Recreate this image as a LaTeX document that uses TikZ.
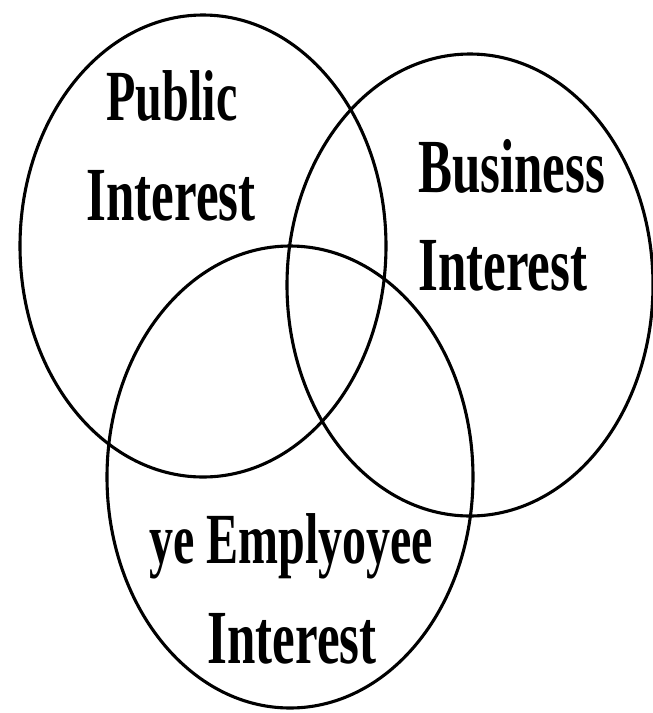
\documentclass[tikz,border=0pt]{standalone}
\usepackage{fontspec}
\setmainfont{Liberation Serif}
\usepackage{graphicx}
\usetikzlibrary{shapes.geometric}
\tikzset{
  venn/.style={draw=black, line width=3.1pt, ellipse, inner sep=0pt,
    minimum width=366pt, minimum height=462pt},
  lbl/.style={font=\fontsize{51}{60}\selectfont\bfseries, inner sep=0pt, anchor=base}
}
\newcommand{\tall}[1]{\scalebox{1}[1.5]{#1}}
\begin{document}
\begin{tikzpicture}[x=1pt,y=-1pt]
\useasboundingbox[fill=white] (0,0) rectangle (653,713);
\node[venn] (pub) at (203,246) {};
\node[venn] (bus) at (470,285) {};
\node[venn] (emp) at (290,477) {};
\node[lbl] (pubA) at (172,120) {\tall{\fontsize{48}{60}\selectfont Public}};
\node[lbl] (pubB) at (171,220) {\tall{Interest}};
\node[lbl, anchor=base west] (busA) at (418,192) {\tall{Business}};
\node[lbl, anchor=base west] (busB) at (418,290) {\tall{Interest}};
\node[lbl] (empA) at (291,563) {\tall{\fontsize{48}{60}\selectfont ye Emplyoyee}};
\node[lbl] (empB) at (292,663) {\tall{Interest}};
\end{tikzpicture}
\end{document}
